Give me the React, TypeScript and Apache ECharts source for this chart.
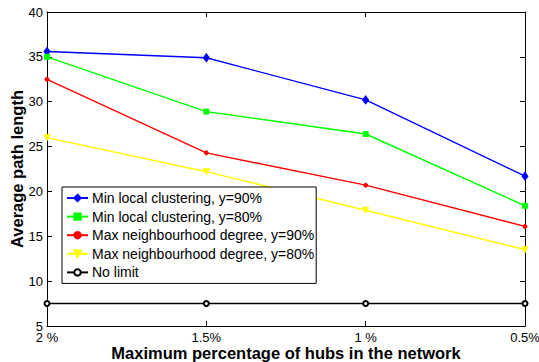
import React, { useEffect, useRef } from "react";
import * as echarts from "echarts";

const categories = ["2 %", "1.5%", "1 %", "0.5%"];
const minClust90 = [35.6, 34.9, 30.2, 21.7];
const minClust80 = [35.0, 28.9, 26.4, 18.4];
const maxDeg90 = [32.5, 24.3, 20.7, 16.1];
const maxDeg80 = [26.0, 22.2, 17.9, 13.5];
const noLimit = [7.5, 7.5, 7.5, 7.5];

const seriesNames = [
  "Min local clustering, y=90%",
  "Min local clustering, y=80%",
  "Max neighbourhood degree, y=90%",
  "Max neighbourhood degree, y=80%",
  "No limit",
];

export default function App() {
  const ref = useRef<HTMLDivElement>(null);
  useEffect(() => {
    document.body.style.margin = "0";
    if (!ref.current) return;
    const chart = echarts.init(ref.current, undefined, { renderer: "svg" });
    const font = "Liberation Sans, Arial, sans-serif";
    const mk = (
      name: string,
      data: number[],
      color: string,
      symbol: string,
      size: number | number[],
      extra: any = {}
    ) => ({
      name,
      type: "line",
      data,
      symbol,
      symbolSize: size,
      showSymbol: true,
      lineStyle: { color, width: 1.4 },
      itemStyle: { color, borderColor: color, borderWidth: 1 },
      z: 3,
      ...extra,
    });
    chart.setOption({
      animation: false,
      textStyle: { fontFamily: font },
      grid: {
        left: 47,
        right: 14,
        top: 12,
        bottom: 36,
        containLabel: false,
        outerBoundsMode: "none",
      },
      legend: {
        orient: "vertical",
        left: 62,
        top: 187,
        backgroundColor: "#fff",
        borderColor: "#000",
        borderWidth: 1,
        padding: [4, 2, 4, 4],
        itemWidth: 21,
        itemHeight: 8,
        itemGap: 4.6,
        textStyle: { fontSize: 14, color: "#000", fontFamily: font, padding: [0, 0, 0, -1] },
        data: seriesNames,
      },
      xAxis: [
        {
          type: "category",
          data: categories,
          boundaryGap: false,
          axisLine: { lineStyle: { color: "#000", width: 1 } },
          axisTick: { inside: true, length: 5, lineStyle: { color: "#000" } },
          axisLabel: { fontSize: 13, color: "#000", margin: 5 },
          name: "Maximum percentage of hubs in the network",
          nameLocation: "middle",
          nameGap: 18,
          nameMoveOverlap: false,
          nameTextStyle: { fontSize: 16.5, fontWeight: "bold", color: "#000" },
          splitLine: { show: false },
        },
        {
          type: "category",
          data: categories,
          boundaryGap: false,
          position: "top",
          axisLine: { lineStyle: { color: "#000", width: 1 } },
          axisTick: { inside: true, length: 5, lineStyle: { color: "#000" } },
          axisLabel: { show: false },
          splitLine: { show: false },
        },
      ],
      yAxis: [
        {
          type: "value",
          min: 5,
          max: 40,
          interval: 5,
          axisLine: { show: true, lineStyle: { color: "#000", width: 1 } },
          axisTick: { show: true, inside: true, length: 5, lineStyle: { color: "#000" } },
          axisLabel: { fontSize: 13, color: "#000", margin: 4 },
          splitLine: { show: false },
          name: "Average path length",
          nameLocation: "middle",
          nameGap: 22,
          nameMoveOverlap: false,
          nameTextStyle: { fontSize: 16.5, fontWeight: "bold", color: "#000" },
        },
        {
          type: "value",
          min: 5,
          max: 40,
          interval: 5,
          position: "right",
          axisLine: { show: true, lineStyle: { color: "#000", width: 1 } },
          axisTick: { show: true, inside: true, length: 5, lineStyle: { color: "#000" } },
          axisLabel: { show: false },
          splitLine: { show: false },
        },
      ],
      series: [
        mk(seriesNames[0], minClust90, "#0000ff", "diamond", [6, 8]),
        mk(seriesNames[1], minClust80, "#00ff00", "rect", 5),
        mk(seriesNames[2], maxDeg90, "#ff0000", "circle", 4),
        mk(seriesNames[3], maxDeg80, "#ffff00", "triangle", 6, { symbolRotate: 180 }),
        mk(seriesNames[4], noLimit, "#000000", "emptyCircle", 5, {
          itemStyle: { color: "#000", borderColor: "#000", borderWidth: 1.2 },
        }),
      ],
    });
    return () => chart.dispose();
  }, []);
  return <div ref={ref} style={{ width: 539, height: 362 }} />;
}
